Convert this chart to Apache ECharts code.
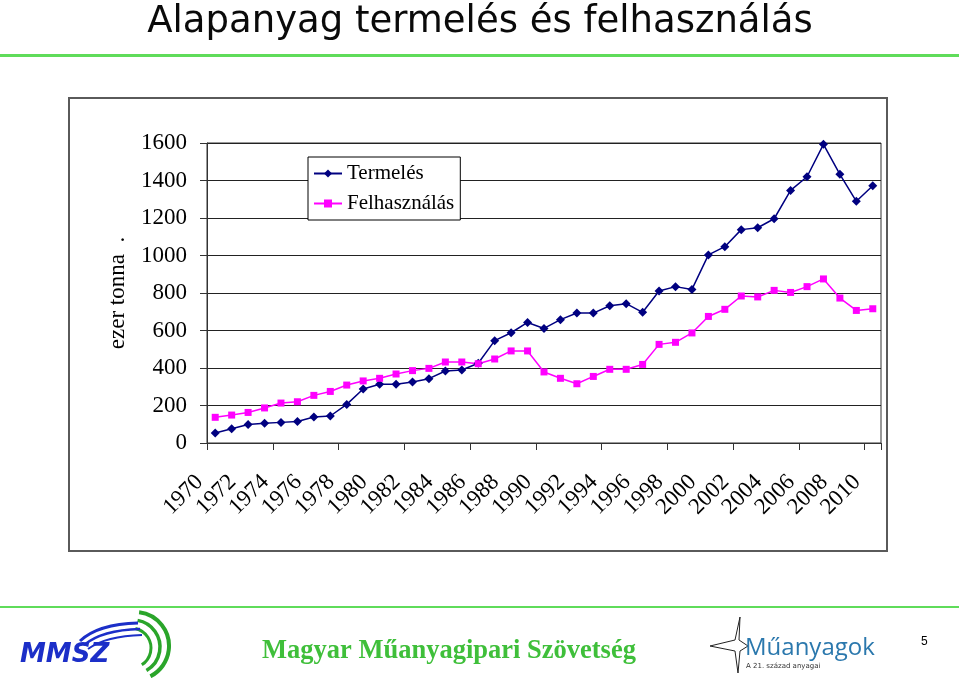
<!DOCTYPE html>
<html>
<head>
<meta charset="utf-8">
<script src="https://cdn.jsdelivr.net/npm/echarts@6/dist/echarts.min.js"></script>
<style>
html,body{margin:0;padding:0;background:#fff;}
#c{width:959px;height:678px;}
</style>
</head>
<body>
<div id="c"></div>
<script>
// ---- data ----
const years = [];
for (let y = 1970; y <= 2010; y++) years.push(String(y));
const termeles = [53, 76, 99, 105, 110, 115, 139, 144, 206, 288, 313, 313, 325, 343, 384, 389, 425, 546, 588, 643, 611,
  658, 693, 693, 732, 743, 697, 811, 834, 819, 1003, 1047, 1138, 1148, 1196, 1347, 1420, 1593, 1433, 1289, 1372];
const felhasznalas = [137, 149, 163, 187, 213, 220, 254, 275, 309, 331, 345, 368, 386, 398, 432, 432, 423, 448, 491, 491, 379,
  345, 316, 355, 393, 393, 419, 526, 537, 587, 675, 713, 784, 779, 814, 803, 834, 875, 773, 707, 716];
const seriesNames = ['Termelés', 'Felhasználás'];
const yTicks = { min: 0, max: 1600, interval: 200 };
const titleText = 'Alapanyag termelés és felhasználás';
const yAxisTitle = 'ezer tonna  .';
const footerText = 'Magyar Műanyagipari Szövetség';

const chart = echarts.init(document.getElementById('c'), null, { renderer: 'canvas' });
const serif = '"Liberation Serif", "Times New Roman", serif';

const option = {
  animation: false,
  backgroundColor: '#ffffff',
  grid: { left: 207, right: 78, top: 143, bottom: 235, show: true, borderColor: '#333', borderWidth: 1 },
  legend: {
    data: seriesNames,
    orient: 'vertical',
    left: 308, top: 157,
    backgroundColor: '#fff',
    borderColor: '#000', borderWidth: 1,
    padding: [6, 6, 6, 5],
    itemGap: 9,
    itemWidth: 28, itemHeight: 10,
    textStyle: { fontFamily: serif, fontSize: 21, color: '#000' }
  },
  xAxis: {
    type: 'category',
    data: years,
    boundaryGap: true,
    axisLine: { lineStyle: { color: '#333', width: 1 } },
    axisTick: { show: true, interval: function (idx) { return idx % 4 === 0; }, length: 7, lineStyle: { color: '#333' } },
    axisLabel: {
      interval: 1, rotate: 45, margin: 20,
      fontFamily: serif, fontSize: 23, color: '#000',
      padding: [0, 22, 0, 0]
    },
    splitLine: { show: false }
  },
  yAxis: {
    type: 'value',
    min: yTicks.min, max: yTicks.max, interval: yTicks.interval,
    name: yAxisTitle,
    nameLocation: 'middle',
    nameRotate: 90,
    nameGap: 78,
    nameTextStyle: { fontFamily: serif, fontSize: 23, color: '#000' },
    axisLine: { show: true, lineStyle: { color: '#333', width: 1 } },
    axisTick: { show: true, length: 7, lineStyle: { color: '#333' } },
    axisLabel: { margin: 20, fontFamily: serif, fontSize: 23, color: '#000', formatter: function (v) { return String(v); } },
    splitLine: { show: true, lineStyle: { color: '#222', width: 1 } }
  },
  series: [
    {
      name: seriesNames[0], type: 'line', data: termeles,
      symbol: 'diamond', symbolSize: 9,
      itemStyle: { color: '#000080' },
      lineStyle: { color: '#000080', width: 1.5 }
    },
    {
      name: seriesNames[1], type: 'line', data: felhasznalas,
      symbol: 'rect', symbolSize: 7,
      itemStyle: { color: '#ff00ff' },
      lineStyle: { color: '#ff00ff', width: 1.5 }
    }
  ],
  graphic: [
    // title
    { type: 'text', x: 480, y: 22, style: { text: titleText, font: '37px "DejaVu Sans", Verdana, sans-serif', fill: '#0a0a0a', textAlign: 'center', textVerticalAlign: 'middle' } },
    // green lines
    { type: 'rect', shape: { x: 0, y: 54, width: 959, height: 3 }, style: { fill: '#5fdc5a' } },
    { type: 'rect', shape: { x: 0, y: 606, width: 959, height: 2 }, style: { fill: '#5fdc5a' } },
    // chart frame
    { type: 'rect', z: -1, shape: { x: 69, y: 98, width: 818, height: 453 }, style: { fill: 'none', stroke: '#5a5a5a', lineWidth: 2 } },
    // footer text
    { type: 'text', x: 449, y: 651, style: { text: footerText, font: 'bold 26.5px "Liberation Serif", "Times New Roman", serif', fill: '#3fbf3a', textAlign: 'center', textVerticalAlign: 'middle' } },
    // MMSZ logo
    { type: 'arc', shape: { cx: 135, cy: 646, r: 34, startAngle: -1.45, endAngle: 1.1 }, style: { stroke: '#2aa52a', lineWidth: 4, fill: 'none' } },
    { type: 'arc', shape: { cx: 133, cy: 647, r: 27, startAngle: -1.4, endAngle: 1.05 }, style: { stroke: '#2aa52a', lineWidth: 3.5, fill: 'none' } },
    { type: 'arc', shape: { cx: 131, cy: 648, r: 20, startAngle: -1.35, endAngle: 1.0 }, style: { stroke: '#2aa52a', lineWidth: 3, fill: 'none' } },
    { type: 'bezierCurve', shape: { x1: 80, y1: 641, x2: 138, y2: 623, cpx1: 98, cpy1: 624 }, style: { stroke: '#1c2fc8', lineWidth: 3, fill: 'none' } },
    { type: 'bezierCurve', shape: { x1: 84, y1: 645, x2: 140, y2: 629, cpx1: 102, cpy1: 630 }, style: { stroke: '#1c2fc8', lineWidth: 2.5, fill: 'none' } },
    { type: 'bezierCurve', shape: { x1: 88, y1: 649, x2: 142, y2: 635, cpx1: 106, cpy1: 636 }, style: { stroke: '#1c2fc8', lineWidth: 2, fill: 'none' } },
    { type: 'text', x: 20, y: 642, style: { text: 'MMSZ', font: 'italic bold 26px "DejaVu Sans", Arial, sans-serif', fill: '#1c2fc8' } },
    // Műanyagok logo
    { type: 'polygon', shape: { points: [[740, 617], [735, 640], [710, 646], [735, 651], [738, 673], [740, 651], [748, 646], [739, 640]] }, style: { fill: 'none', stroke: '#222', lineWidth: 1 } },
    { type: 'text', x: 745, y: 636, style: { text: 'Műanyagok', font: '24px "Open Sans", "DejaVu Sans", sans-serif', fill: '#2b78ad' } },
    { type: 'text', x: 746, y: 663, style: { text: 'A 21. század anyagai', font: '7px "DejaVu Sans", sans-serif', fill: '#333' } },
    // page number
    { type: 'text', x: 921, y: 636, style: { text: '5', font: '12px "Liberation Sans", Arial, sans-serif', fill: '#000' } }
  ]
};
chart.setOption(option);
</script>
</body>
</html>
